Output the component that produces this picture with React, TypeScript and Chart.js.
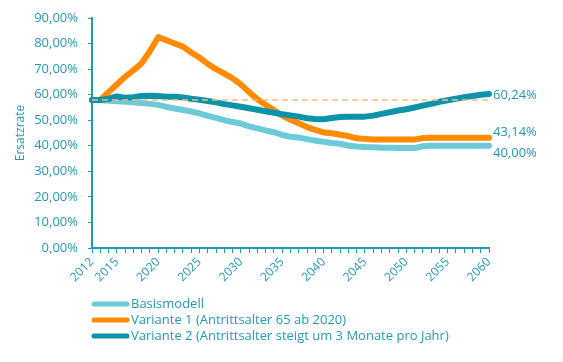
import React, { useEffect, useRef } from "react";
import { Chart, registerables } from "chart.js";

Chart.register(...registerables);

// ---- data ----
const years: string[] = Array.from({ length: 49 }, (_, i) => String(2012 + i));
const shownYearLabels = ["2012", "2015", "2020", "2025", "2030", "2035", "2040", "2045", "2050", "2055", "2060"];
const yTicks = [0, 10, 20, 30, 40, 50, 60, 70, 80, 90];

const basismodell = [
  57.9, 57.8, 57.6, 57.4, 57.2, 57.0, 56.7, 56.4, 56.0, 55.2,
  54.6, 54.0, 53.4, 52.7, 51.7, 50.9, 50.0, 49.3, 48.7, 47.6,
  46.8, 46.0, 45.3, 44.3, 43.5, 43.2, 42.6, 42.0, 41.6, 41.1,
  40.8, 40.0, 39.7, 39.5, 39.4, 39.2, 39.2, 39.1, 39.1, 39.1,
  39.8, 40.0, 40.0, 40.0, 40.0, 40.0, 40.0, 40.0, 40.0,
];
const variante1 = [
  57.9, 57.9, 61.0, 64.0, 67.0, 69.5, 72.3, 77.0, 82.5, 81.3,
  80.0, 78.8, 76.5, 74.5, 72.0, 70.0, 68.2, 66.4, 64.0, 61.0,
  58.2, 56.0, 54.0, 51.8, 50.2, 48.8, 47.3, 46.2, 45.2, 44.9,
  44.3, 43.8, 42.9, 42.7, 42.5, 42.5, 42.5, 42.5, 42.5, 42.5,
  43.0, 43.14, 43.14, 43.14, 43.14, 43.14, 43.14, 43.14, 43.14,
];
const variante2 = [
  57.9, 57.9, 58.4, 59.3, 58.8, 59.0, 59.5, 59.6, 59.5, 59.2,
  59.2, 58.9, 58.4, 58.0, 57.5, 57.0, 56.3, 55.8, 55.3, 54.7,
  54.1, 53.5, 52.9, 52.3, 51.9, 51.4, 50.8, 50.5, 50.4, 50.9,
  51.3, 51.4, 51.4, 51.4, 51.8, 52.5, 53.1, 53.8, 54.3, 55.0,
  55.7, 56.4, 57.2, 57.8, 58.4, 59.0, 59.5, 60.0, 60.24,
];
const referenceLevel = 57.9;
const endLabels = ["60,24%", "43,14%", "40,00%"];
const seriesNames = [
  "Basismodell",
  "Variante 1 (Antrittsalter 65 ab 2020)",
  "Variante 2 (Antrittsalter steigt um 3 Monate pro Jahr)",
];

// ---- styles ----
const FONT = "'Open Sans', sans-serif";
const TEXT = "#2796b4";
const AXIS = "#1d9bb3";
const C_BASIS = "#6ccbd6";
const C_V1 = "#ff8c00";
const C_V2 = "#0b93a9";
const C_REF = "rgba(255, 186, 120, 0.75)";

const fmt = (v: number) => v.toFixed(2).replace(".", ",") + "%";

const endLabelPlugin = {
  id: "endLabels",
  afterDatasetsDraw(chart: any) {
    const ctx = chart.ctx;
    // dataset indices: 1 = Variante 2, 2 = Variante 1, 3 = Basismodell
    const items = [
      { ds: 1, text: endLabels[0], dy: 1 },
      { ds: 2, text: endLabels[1], dy: -5 },
      { ds: 3, text: endLabels[2], dy: 8 },
    ];
    ctx.save();
    ctx.font = `13px ${FONT}`;
    ctx.fillStyle = TEXT;
    ctx.textAlign = "left";
    ctx.textBaseline = "middle";
    for (const it of items) {
      const meta = chart.getDatasetMeta(it.ds);
      const pt = meta.data[meta.data.length - 1];
      ctx.fillText(it.text, pt.x + 4, pt.y + it.dy);
    }
    ctx.restore();
  },
};

const legendPlugin = {
  id: "customLegend",
  afterDraw(chart: any) {
    const ctx = chart.ctx;
    const colors = [C_BASIS, C_V1, C_V2];
    const left = chart.chartArea.left;
    const top = chart.chartArea.bottom + 56;
    ctx.save();
    ctx.font = `13px ${FONT}`;
    ctx.textBaseline = "middle";
    ctx.textAlign = "left";
    seriesNames.forEach((name, i) => {
      const y = top + i * 16;
      ctx.strokeStyle = colors[i];
      ctx.lineWidth = 5;
      ctx.lineCap = "round";
      ctx.beginPath();
      ctx.moveTo(left + 2, y);
      ctx.lineTo(left + 35, y);
      ctx.stroke();
      ctx.fillStyle = TEXT;
      ctx.fillText(name, left + 39, y);
    });
    ctx.restore();
  },
};

export default function App() {
  const ref = useRef<HTMLCanvasElement>(null);
  useEffect(() => {
    document.body.style.margin = "0";
    Chart.defaults.font.family = FONT;
    const lineDs = (label: string, data: number[], color: string) => ({
      label,
      data,
      borderColor: color,
      backgroundColor: color,
      borderWidth: 6,
      pointRadius: 0,
      tension: 0,
      borderCapStyle: "round" as const,
      borderJoinStyle: "round" as const,
      fill: false,
    });
    const chart = new Chart(ref.current!, {
      type: "line",
      data: {
        labels: years,
        datasets: [
          {
            label: "Referenz",
            data: years.map(() => referenceLevel),
            borderColor: C_REF,
            borderWidth: 2,
            borderDash: [6, 4],
            pointRadius: 0,
            fill: false,
          },
          lineDs(seriesNames[2], variante2, C_V2),
          lineDs(seriesNames[1], variante1, C_V1),
          lineDs(seriesNames[0], basismodell, C_BASIS),
        ],
      },
      options: {
        responsive: false,
        animation: false,
        layout: { padding: { left: 0, right: 74, top: 18, bottom: 0 } },
        plugins: {
          legend: { display: false },
          tooltip: { enabled: false },
        },
        scales: {
          x: {
            type: "category",
            offset: false,
            grid: { drawOnChartArea: false, drawTicks: true, tickLength: 5, color: AXIS, lineWidth: 1 },
            border: { display: true, color: AXIS, width: 2 },
            ticks: {
              autoSkip: false,
              minRotation: 45,
              maxRotation: 45,
              padding: 2,
              color: TEXT,
              font: { size: 12, family: FONT },
              callback: (_v: any, i: number) => (shownYearLabels.includes(years[i]) ? years[i] : ""),
            },
            afterFit: (s: any) => {
              s.height = 114;
            },
          },
          y: {
            min: 0,
            max: 90,
            afterBuildTicks: (s: any) => {
              s.ticks = yTicks.map((v) => ({ value: v }));
            },
            grid: { drawOnChartArea: false, drawTicks: true, tickLength: 4, color: AXIS, lineWidth: 1 },
            border: { display: true, color: AXIS, width: 2 },
            ticks: {
              padding: 10,
              color: TEXT,
              font: { size: 13, family: FONT },
              callback: (v: any) => fmt(Number(v)),
            },
            title: {
              display: true,
              text: "Ersatzrate",
              color: TEXT,
              font: { size: 12, family: FONT },
              padding: { top: 13, bottom: 0 },
            },
            afterFit: (s: any) => {
              s.width = 92;
            },
          },
        },
      },
      plugins: [endLabelPlugin, legendPlugin],
    });
    return () => chart.destroy();
  }, []);
  return (
    <div style={{ width: 563, height: 362 }}>
      <canvas ref={ref} width={563} height={362} style={{ display: "block" }} />
    </div>
  );
}
